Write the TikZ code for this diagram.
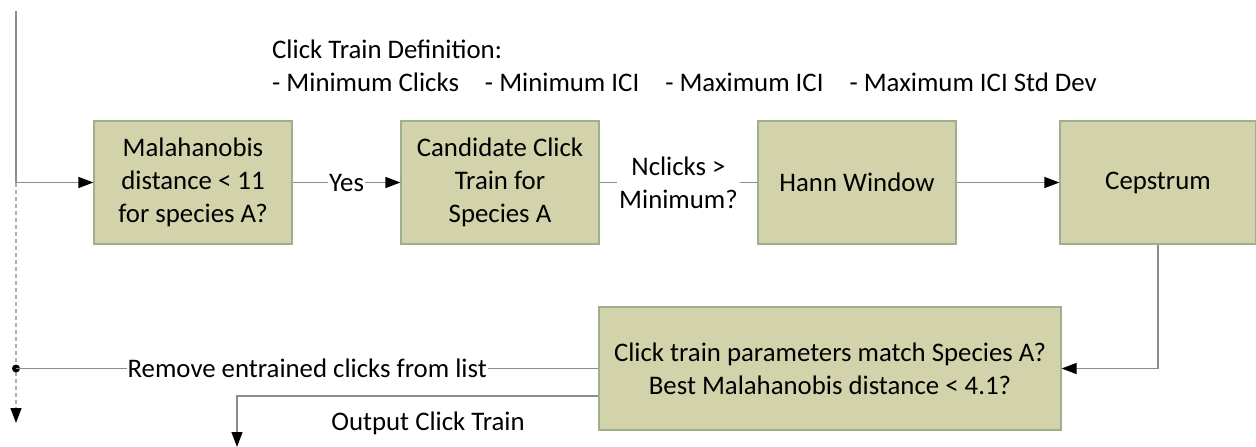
\documentclass[tikz,border=0pt]{standalone}
\usepackage{fontspec}
\setmainfont{Carlito}
\usetikzlibrary{arrows.meta}
\definecolor{boxfill}{RGB}{210,211,171}
\definecolor{boxdraw}{RGB}{156,176,143}
\definecolor{linegray}{RGB}{140,140,140}
\definecolor{dashgray}{RGB}{175,175,175}
\tikzset{
  stepbox/.style={draw=boxdraw, fill=boxfill, line width=1.2pt, minimum height=123pt, align=center, inner sep=2pt, font=\fontsize{26.8}{33}\selectfont},
  conn/.style={draw=linegray, line width=1.3pt},
  tip/.style={-{Triangle[length=15pt,width=11pt,color=black]}},
  lbl/.style={font=\fontsize{26.8}{33}\selectfont, align=center, inner sep=2pt},
}
\begin{document}
\begin{tikzpicture}[x=1pt,y=-1pt]
\useasboundingbox (0,0) rectangle (1256,447);
\node[stepbox, minimum width=198pt] (b1) at (193,182.5) {Malahanobis\\distance < 11\\for species A?};
\node[stepbox, minimum width=198pt] (b2) at (500,182.5) {Candidate Click\\Train for\\Species A};
\node[stepbox, minimum width=198pt] (b3) at (857,182.5) {Hann Window};
\node[stepbox, minimum width=196pt] (b4) at (1158,182.5) {Cepstrum};
\node[stepbox, minimum width=462pt] (b5) at (830,368.5) {Click train parameters match Species A?\\Best Malahanobis distance < 4.1?};

\node[lbl, anchor=west] (def) at (270,49) {Click Train Definition:};
\node[lbl, anchor=west] (defl) at (270,82) {- Minimum Clicks\hspace{26pt}- Minimum ICI\hspace{26pt}- Maximum ICI\hspace{26pt}- Maximum ICI Std Dev};

\coordinate (top) at (16,11);
\coordinate (branch) at (16,182.5);
\coordinate (dot) at (16,368.5);
\coordinate (bottom) at (16,423);
\coordinate (outend) at (237,447);

\draw[conn] (top) -- (branch);
\draw[conn, tip] (branch) -- (b1.west);
\draw[draw=dashgray, line width=1.3pt, dash pattern=on 4pt off 3pt, tip] (branch) -- (bottom);
\fill (dot) circle (4pt);

\draw[conn, tip] (b1.east) -- node[lbl, fill=white, inner sep=1pt] (yes) {Yes} (b2.west);
\draw[conn] (b2.east) -- node[lbl, fill=white] (ncl) {Nclicks >\\Minimum?} (b3.west);
\draw[conn, tip] (b3.east) -- (b4.west);
\draw[conn, tip] (b4.south) |- (b5.east);
\draw[conn] (b5.west) -- node[lbl, fill=white, inner sep=1pt] (rem) {Remove entrained clicks from list} (dot);
\draw[conn, tip] (b5.west |- 0,396) -| (outend);
\node[lbl] (out) at (428,423) {Output Click Train};
\end{tikzpicture}
\end{document}
